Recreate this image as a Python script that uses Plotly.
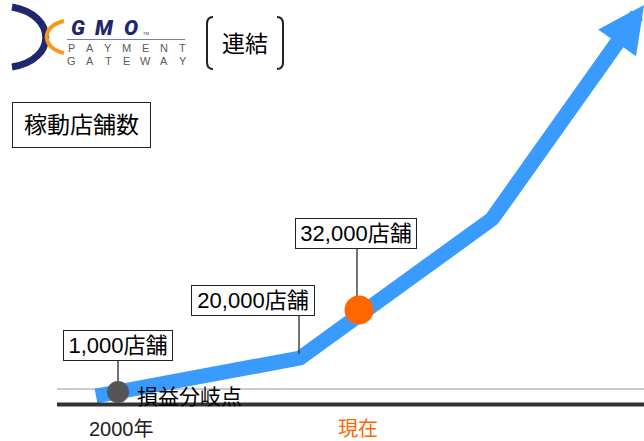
import math
import plotly.graph_objects as go

# Canvas units: x runs left→right, y runs top→bottom (0..W, 0..H)
W, H = 644, 441

# Growth trend path (start, bends) and arrow tip
trend_x = [96, 300, 492]
trend_y = [396, 358, 219]
tip_x, tip_y = 644, 5

# Store-count milestones: label text, label box centre/size, connector, dot
milestone_labels = ["1,000店舗", "20,000店舗", "32,000店舗"]
label_cx = [118, 253, 356]
label_cy = [345.5, 300.5, 233.5]
label_w = [108, 122, 120]
connector_x = [118, 299, 357]
connector_top = [361, 316, 249]
connector_bottom = [381, 354, 296]

# Highlighted points on the trend
dot_x = [118, 359]
dot_y = [392, 310]
dot_size = [22, 29]
dot_color = ["#555555", "#ff6600"]

# Time axis labels
time_labels = ["2000年", "現在"]
time_x = [121, 358]
time_colors = ["#222222", "#ff6600"]

breakeven_y = 389
baseline_y = 404.5
axis_left = 57

BLUE = "#3a9bff"
NAVY = "#1f276e"
ORANGE_LOGO = "#f59a1b"
FONT = "Liberation Sans, Noto Sans CJK JP, sans-serif"

fig = go.Figure()

# break-even reference line
fig.add_trace(go.Scatter(x=[axis_left, W], y=[breakeven_y, breakeven_y], mode="lines",
                         line=dict(color="#999999", width=1), hoverinfo="skip"))

# trend shaft, ending inside the arrow head
dx, dy = tip_x - trend_x[-1], tip_y - trend_y[-1]
seg = math.hypot(dx, dy)
head_len = 40
end_x = tip_x - dx / seg * head_len
end_y = tip_y - dy / seg * head_len
fig.add_trace(go.Scatter(x=trend_x + [end_x], y=trend_y + [end_y], mode="lines",
                         line=dict(color=BLUE, width=15), hoverinfo="skip"))

# time baseline
fig.add_trace(go.Scatter(x=[axis_left, W], y=[baseline_y, baseline_y], mode="lines",
                         line=dict(color="#333333", width=4), hoverinfo="skip"))

# connectors from labels to the trend
cx, cy = [], []
for x, t, b in zip(connector_x, connector_top, connector_bottom):
    cx += [x, x, None]
    cy += [t, b, None]
fig.add_trace(go.Scatter(x=cx, y=cy, mode="lines",
                         line=dict(color="#444444", width=1.5), hoverinfo="skip"))

# milestone dots
fig.add_trace(go.Scatter(x=dot_x, y=dot_y, mode="markers",
                         marker=dict(size=dot_size, color=dot_color, opacity=1,
                                     line=dict(width=0)),
                         hoverinfo="skip"))

annotations = []

# arrow head
annotations.append(dict(x=tip_x, y=tip_y, ax=trend_x[-1], ay=trend_y[-1],
                        xref="x", yref="y", axref="x", ayref="y", text="",
                        showarrow=True, arrowhead=2, arrowsize=0.62, arrowwidth=15,
                        arrowcolor=BLUE))

# milestone label boxes
for txt, x, y, w in zip(milestone_labels, label_cx, label_cy, label_w):
    annotations.append(dict(x=x, y=y, xref="x", yref="y", text=txt, showarrow=False,
                            xanchor="center", yanchor="middle", width=w, height=29,
                            bgcolor="white", bordercolor="#222222", borderwidth=1,
                            borderpad=0, font=dict(family=FONT, size=22, color="#000000")))

# break-even caption
annotations.append(dict(x=135, y=396, xref="x", yref="y", text="損益分岐点", showarrow=False,
                        xanchor="left", yanchor="middle",
                        font=dict(family=FONT, size=21, color="#000000")))

# time labels
for txt, x, c in zip(time_labels, time_x, time_colors):
    annotations.append(dict(x=x, y=429, xref="x", yref="y", text=txt, showarrow=False,
                            xanchor="center", yanchor="middle",
                            font=dict(family=FONT, size=20, color=c)))

# chart title box
annotations.append(dict(x=81.5, y=125, xref="x", yref="y", text="稼動店舗数", showarrow=False,
                        xanchor="center", yanchor="middle", width=137, height=44,
                        bgcolor="white", bordercolor="#222222", borderwidth=1, borderpad=0,
                        font=dict(family=FONT, size=23, color="#000000")))

# consolidated tag
annotations.append(dict(x=245, y=44, xref="x", yref="y", text="連結", showarrow=False,
                        xanchor="center", yanchor="middle",
                        font=dict(family=FONT, size=23, color="#000000")))

# logo wordmark
for ch, x in zip("GMO", [78, 104, 130.5]):
    annotations.append(dict(x=x, y=27.5, xref="x", yref="y", text=ch,
                            showarrow=False, xanchor="center", yanchor="middle",
                            font=dict(family="Roboto", size=21, color=NAVY,
                                      weight=900, style="italic")))
annotations.append(dict(x=146, y=33, xref="x", yref="y", text="TM", showarrow=False,
                        xanchor="center", yanchor="middle",
                        font=dict(family=FONT, size=4, color=NAVY)))
for row, y in (("PAYMENT", 48), ("GATEWAY", 61)):
    for i, ch in enumerate(row):
        annotations.append(dict(x=71 + i * 18.6, y=y, xref="x", yref="y", text=ch,
                                showarrow=False, xanchor="center", yanchor="middle",
                                font=dict(family=FONT, size=11, color="#5a5a5a")))

shapes = [
    # logo emblem arcs
    dict(type="path", path="M 12,7 C 57,15 57,60 12,67", xref="x", yref="y",
         line=dict(color=NAVY, width=7)),
    dict(type="path", path="M 64,21 C 41,26 41,48 64,53", xref="x", yref="y",
         line=dict(color=ORANGE_LOGO, width=4)),
    dict(type="line", x0=67, x1=185, y0=39.5, y1=39.5, xref="x", yref="y",
         line=dict(color="#7c7cb0", width=1)),
    # brackets around the consolidated tag
    dict(type="path", path="M 213,17 Q 207,17 207,24 L 207,62 Q 207,69 213,69",
         xref="x", yref="y", line=dict(color="#222222", width=2)),
    dict(type="path", path="M 277,17 Q 283,17 283,24 L 283,62 Q 283,69 277,69",
         xref="x", yref="y", line=dict(color="#222222", width=2)),
]

fig.update_layout(
    width=W, height=H,
    margin=dict(l=0, r=0, t=0, b=0),
    paper_bgcolor="white", plot_bgcolor="white",
    showlegend=False,
    xaxis=dict(range=[0, W], visible=False, fixedrange=True),
    yaxis=dict(range=[H, 0], visible=False, fixedrange=True),
    annotations=annotations,
    shapes=shapes,
)

fig.write_html("out.html", config={"displayModeBar": False})
